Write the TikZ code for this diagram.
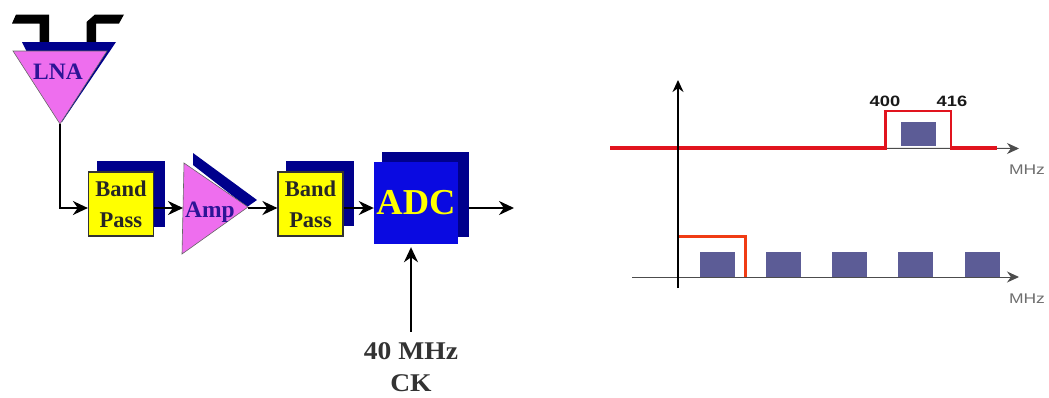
\documentclass[tikz,border=0pt]{standalone}
\usepackage{fontspec}
\setmainfont{Liberation Serif}
\setsansfont{Liberation Sans}
\usetikzlibrary{arrows.meta,positioning,calc}
\definecolor{navyS}{RGB}{0,0,140}
\definecolor{pinkT}{RGB}{238,110,238}
\definecolor{inkT}{RGB}{45,20,150}
\definecolor{yellowB}{RGB}{255,255,0}
\definecolor{blueA}{RGB}{10,10,225}
\definecolor{redL}{RGB}{225,20,30}
\definecolor{orangeL}{RGB}{240,60,20}
\definecolor{slateB}{RGB}{92,92,150}
\definecolor{greyT}{RGB}{110,110,110}

\begin{document}
\begin{tikzpicture}[x=1pt, y=-1pt, >={Stealth[length=15pt, width=14pt]}]
  \useasboundingbox (0,0) rectangle (1049,397);
  \tikzstyle{shadowbox}=[fill=navyS, inner sep=0pt]
  \tikzstyle{bandbox}=[fill=yellowB, draw=black!80, line width=1.2pt, inner sep=0pt, minimum width=65pt, minimum height=64pt, align=center, font=\fontsize{22.5}{31}\selectfont\bfseries, text=black!85]
  \tikzstyle{trilabel}=[font=\fontsize{23.5}{26}\selectfont\bfseries, text=inkT, inner sep=0pt]
  \tikzstyle{wire}=[->, line width=2pt, black]
  \tikzstyle{slot}=[fill=slateB, inner sep=0pt, minimum width=35pt, minimum height=25pt]
  \tikzstyle{unit}=[font=\sffamily\fontsize{14}{16}\selectfont, text=greyT, xscale=1.25, inner sep=0pt]
  \tikzstyle{freq}=[font=\sffamily\bfseries\fontsize{15}{17}\selectfont, text=black!90, xscale=1.22, inner sep=0pt]

  % antenna feeds
  \fill[black] (12,23.5) -- (16,14.5) -- (49,14.5) -- (49,50) -- (39.5,50) -- (39.5,23.5) -- cycle;
  \fill[black] (86.5,50) -- (86.5,22) -- (95,14.5) -- (124,14.5) -- (119,23.5) -- (96,23.5) -- (96,50) -- cycle;

  % LNA
  \fill[navyS] (22,42) -- (116,42) -- (62,122) -- cycle;
  \draw[fill=pinkT, draw=black!60, line width=0.6pt] (13,51) -- (107,51) -- (60,124) -- cycle;
  \coordinate (lnaTip) at (60,124);
  \node[trilabel] (lna) at (58,72) {LNA};

  % band pass, amp, band pass, adc
  \node[shadowbox, minimum width=68pt, minimum height=66pt] (bandAs) at (131,194) {};
  \node[bandbox] (bandA) at (121,204) {Band\\Pass};

  \fill[navyS] (193,153) -- (257,200) -- (247,207) -- (193,165) -- cycle;
  \draw[fill=pinkT, draw=black!60, line width=0.6pt] (184,163) -- (248,207) -- (182,254) -- cycle;
  \coordinate (ampIn) at (183,208);
  \coordinate (ampTip) at (248,208);
  \node[trilabel] (amp) at (210,212) {Amp};

  \node[shadowbox, minimum width=68pt, minimum height=65pt] (bandBs) at (320,193.5) {};
  \node[bandbox] (bandB) at (310.5,204) {Band\\Pass};

  \node[shadowbox, minimum width=87pt, minimum height=85pt] (adcS) at (425.5,194.5) {};
  \node[fill=blueA, inner sep=0pt, minimum width=84pt, minimum height=82pt, font=\fontsize{36.5}{40}\selectfont\bfseries, text=yellowB] (adc) at (416,203) {ADC};

  \coordinate (adcOut) at (514,208);
  \node[font=\fontsize{25.5}{32}\selectfont\bfseries, text=black!80, align=center, inner sep=0pt, xscale=1.08] (clk) at (411,367.5) {40 MHz\\CK};

  % connectors
  \draw[wire] (lnaTip) |- ([yshift=-4pt]bandA.west);
  \draw[wire] ([yshift=-4pt]bandA.east) -- (ampIn);
  \draw[wire] (ampTip) -- ([yshift=-4pt]bandB.west);
  \draw[wire] ([yshift=-4pt]bandB.east) -- ([yshift=-5pt]adc.west);
  \draw[wire] (adcS.east |- adcOut) -- (adcOut);
  \draw[wire] ([yshift=11pt]clk.north) -- ([yshift=-3pt]clk.north |- adc.south);

  % upper spectrum
  \coordinate (axisTop) at (678,80);
  \coordinate (axisBot) at (678,288);
  \coordinate (upStart) at (610,148);
  \coordinate (upEnd) at (1019,148.5);
  \coordinate (lowStart) at (632,277);
  \coordinate (lowEnd) at (1019,277);
  \draw[->, line width=1pt, black!70, >={Stealth[length=12pt, width=11pt]}] (upStart) -- (upEnd);
  \node[slot, minimum height=24pt] (sigA) at (918.5,134) {};
  \draw[line width=3.2pt, redL] (upStart) -- (885,148);
  \draw[line width=3.2pt, redL] (951,148) -- (997,148);
  \draw[line width=3pt, redL] (885,149.5) -- (885,111);
  \draw[line width=2pt, redL] (883.5,111) -- (951,111) -- (951,149.5);
  \node[freq] (fLow) at (885,101) {400};
  \node[freq] (fHigh) at (952,101) {416};
  \node[unit] (unitA) at (1027,170) {MHz};

  % lower spectrum
  \draw[->, line width=1pt, black!70, >={Stealth[length=12pt, width=11pt]}] (lowStart) -- (lowEnd);
  \foreach \sx/\sname in {717/a,783.5/b,849.5/c,915.5/d,982.5/e}
    \node[slot, anchor=south] (slot\sname) at (\sx,277) {};
  \draw[line width=3pt, orangeL] (678,236) -- (745,236) -- (745,277);
  \node[unit] (unitB) at (1027,299) {MHz};

  \draw[->, line width=1.4pt, black, >={Stealth[length=12pt, width=11pt]}] (axisBot) -- (axisTop);
\end{tikzpicture}
\end{document}
